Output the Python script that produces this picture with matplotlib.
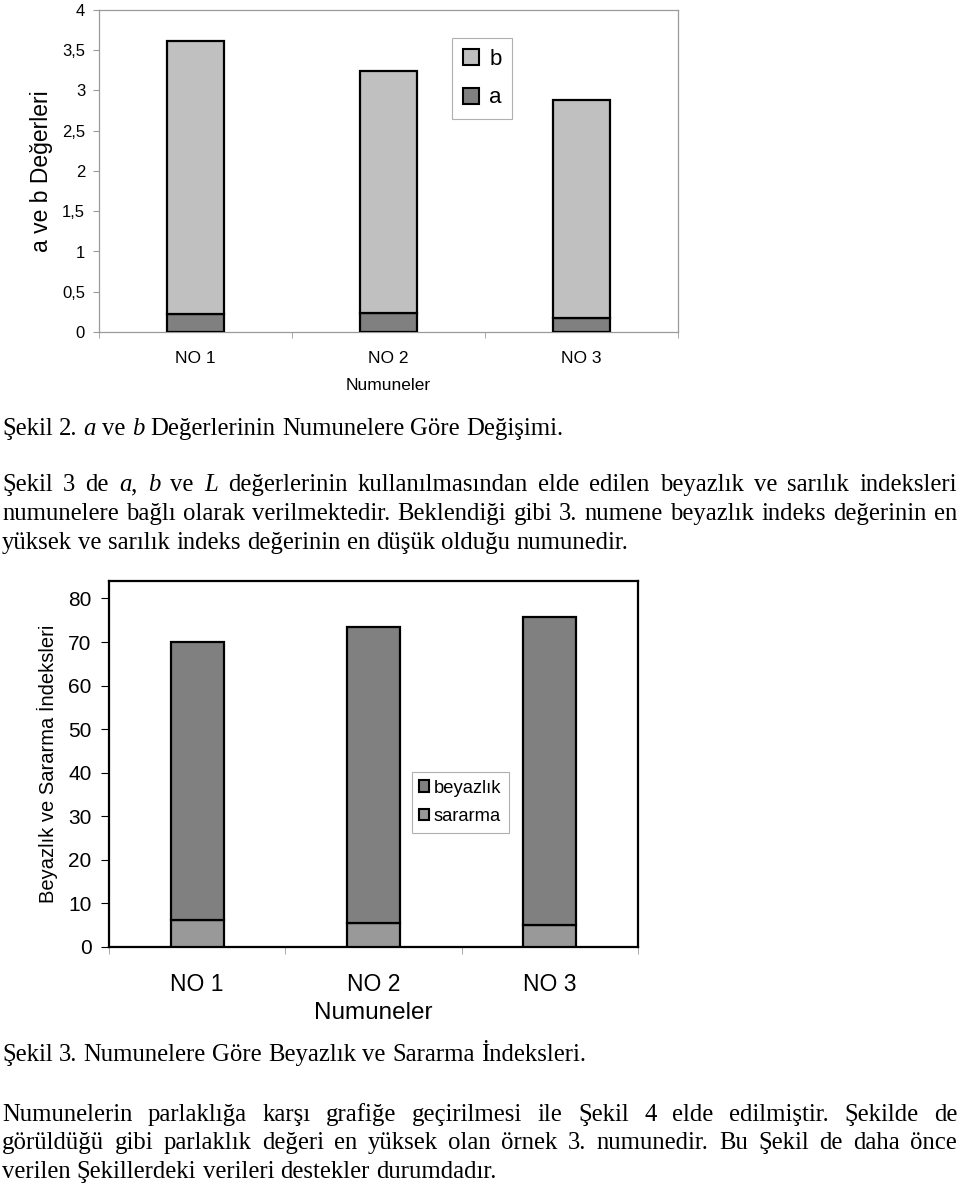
import matplotlib
matplotlib.use('Agg')
import matplotlib.pyplot as plt
from matplotlib.patches import Patch
import numpy as np

# ---------------- data ----------------
samples = ['NO 1', 'NO 2', 'NO 3']

# Chart 1 (Şekil 2): a and b values (stacked)
a_vals = [0.22, 0.24, 0.18]
b_vals = [3.40, 3.00, 2.70]
yticks1 = [0, 0.5, 1, 1.5, 2, 2.5, 3, 3.5, 4]
ytick_labels1 = ['0', '0,5', '1', '1,5', '2', '2,5', '3', '3,5', '4']

# Chart 2 (Şekil 3): sararma and beyazlık indices (stacked)
sararma = [6.3, 5.5, 5.0]
beyazlik = [63.7, 68.0, 70.7]
yticks2 = [0, 10, 20, 30, 40, 50, 60, 70, 80]
ytick_labels2 = ['0', '10', '20', '30', '40', '50', '60', '70', '80']

# Body text lines ('|' toggles italic), with justify flag
caption1 = "Şekil 2. |a| ve |b| Değerlerinin Numunelere Göre Değişimi."
para1 = [
    ("Şekil 3 de |a|, |b| ve |L| değerlerinin kullanılmasından elde edilen beyazlık ve sarılık indeksleri", True),
    ("numunelere bağlı olarak verilmektedir. Beklendiği gibi 3. numene beyazlık indeks değerinin en", True),
    ("yüksek ve sarılık indeks değerinin en düşük olduğu numunedir.", False),
]
caption2 = "Şekil 3. Numunelere Göre Beyazlık ve Sararma İndeksleri."
para2 = [
    ("Numunelerin parlaklığa karşı grafiğe geçirilmesi ile Şekil 4 elde edilmiştir. Şekilde de", True),
    ("görüldüğü gibi parlaklık değeri en yüksek olan örnek 3. numunedir. Bu Şekil de daha önce", True),
    ("verilen Şekillerdeki verileri destekler durumdadır.", False),
]

# ---------------- figure ----------------
W, H = 960, 1185
fig = plt.figure(figsize=(W / 100, H / 100), dpi=100)
fig.patch.set_facecolor('white')
SANS = ['Liberation Sans', 'DejaVu Sans']
SERIF = ['Liberation Serif', 'DejaVu Serif']
plt.rcParams['font.family'] = SANS


def ax_rect(x0, y0, x1, y1):
    return [x0 / W, 1 - y1 / H, (x1 - x0) / W, (y1 - y0) / H]


x = np.arange(len(samples))
BW = 0.30

# ---------------- Chart 1 ----------------
ax1 = fig.add_axes(ax_rect(99, 10, 678, 332))
ax1.bar(x, a_vals, BW, color='#808080', edgecolor='black', linewidth=1.6, zorder=3, label='a')
ax1.bar(x, b_vals, BW, bottom=a_vals, color='#c0c0c0', edgecolor='black', linewidth=1.6,
        zorder=3, label='b')
ax1.set_xlim(-0.5, 2.5)
ax1.set_ylim(0, 4)
for s in ax1.spines.values():
    s.set_color('#9a9a9a')
    s.set_linewidth(0.9)
ax1.set_xticks(x, samples)
ax1.set_xticks([-0.5, 0.5, 1.5, 2.5], minor=True)
ax1.tick_params(axis='x', which='major', length=0, pad=14, labelsize=12.5)
ax1.tick_params(axis='x', which='minor', length=4, color='#9a9a9a', direction='out')
ax1.set_yticks(yticks1, ytick_labels1)
ax1.tick_params(axis='y', length=4, color='#9a9a9a', pad=6, labelsize=12)
ax1.set_xlabel('Numuneler', fontsize=12.5, labelpad=8)
ax1.set_ylabel('a ve b Değerleri', fontsize=16.5)
ax1.yaxis.set_label_coords(-0.080, 0.5)
h1 = [Patch(facecolor='#c0c0c0', edgecolor='black', linewidth=1.5, label='b'),
      Patch(facecolor='#808080', edgecolor='black', linewidth=1.5, label='a')]
leg1 = ax1.legend(handles=h1, loc='upper left', bbox_to_anchor=(452 / W, 1 - 38 / H),
                  bbox_transform=fig.transFigure, borderaxespad=0, fancybox=False,
                  framealpha=1, edgecolor='#b0b0b0', fontsize=16, handlelength=0.75,
                  handleheight=0.75, labelspacing=0.8, handletextpad=0.44, borderpad=0.48)
leg1.get_frame().set_linewidth(0.8)

# ---------------- Chart 2 ----------------
ax2 = fig.add_axes(ax_rect(109, 581, 638, 947))
ax2.bar(x, sararma, BW, color='#999999', edgecolor='black', linewidth=1.6, zorder=3, label='sararma')
ax2.bar(x, beyazlik, BW, bottom=sararma, color='#808080', edgecolor='black', linewidth=1.6,
        zorder=3, label='beyazlık')
ax2.set_xlim(-0.5, 2.5)
ax2.set_ylim(0, 84)
for s in ax2.spines.values():
    s.set_color('black')
    s.set_linewidth(1.6)
ax2.set_xticks(x, samples)
ax2.set_xticks([-0.5, 0.5, 1.5, 2.5], minor=True)
ax2.tick_params(axis='x', which='major', length=0, pad=19, labelsize=16.5)
ax2.tick_params(axis='x', which='minor', length=5, color='#9a9a9a', direction='out')
ax2.set_yticks(yticks2, ytick_labels2)
ax2.tick_params(axis='y', length=5.5, color='black', pad=7, labelsize=15)
ax2.set_xlabel('Numuneler', fontsize=17.5, labelpad=4)
ax2.set_ylabel('Beyazlık ve Sararma İndeksleri', fontsize=14.5)
ax2.yaxis.set_label_coords(-0.097, 0.5)
h2 = [Patch(facecolor='#808080', edgecolor='black', linewidth=1.5, label='beyazlık'),
      Patch(facecolor='#999999', edgecolor='black', linewidth=1.5, label='sararma')]
leg2 = ax2.legend(handles=h2, loc='upper left', bbox_to_anchor=(411.5 / W, 1 - 772 / H),
                  bbox_transform=fig.transFigure, borderaxespad=0, fancybox=False,
                  framealpha=1, edgecolor='#b0b0b0', fontsize=13.2, handlelength=0.55,
                  handleheight=0.6, labelspacing=0.62, handletextpad=0.25, borderpad=0.42)
leg2.get_frame().set_linewidth(0.8)

# ---------------- body text ----------------
FS = 17.8
renderer = fig.canvas.get_renderer()


def parse_words(line):
    words = []
    for w in line.split(' '):
        parts = w.split('|')
        runs = []
        ital = False
        for i, p in enumerate(parts):
            if i > 0:
                ital = not ital
            if p:
                runs.append((p, ital))
        words.append(runs)
    return words


def measure(txt, ital):
    t = fig.text(0, 0, txt, fontsize=FS, family=SERIF, style='italic' if ital else 'normal',
                 transform=None)
    w = t.get_window_extent(renderer).width
    t.remove()
    return w


SPACE = measure('x x', False) - measure('xx', False)


def draw_line(line, y_base, justify, x0=2, x1=957):
    words = parse_words(line)
    ww = [[measure(t, it) for t, it in wd] for wd in words]
    totals = [sum(w) for w in ww]
    if justify and len(words) > 1:
        gap = (x1 - x0 - sum(totals)) / (len(words) - 1)
    else:
        gap = SPACE
    xp = x0
    yp = H - y_base
    for wd, wl in zip(words, ww):
        xx = xp
        for (t, it), w in zip(wd, wl):
            fig.text(xx, yp, t, fontsize=FS, family=SERIF, style='italic' if it else 'normal',
                     transform=None, va='baseline', ha='left')
            xx += w
        xp = xx + gap


draw_line(caption1, 435, False)
for (ln, j), yb in zip(para1, [491, 520, 549]):
    draw_line(ln, yb, j)
draw_line(caption2, 1061, False)
for (ln, j), yb in zip(para2, [1121, 1149, 1178]):
    draw_line(ln, yb, j)

fig.savefig('out.png', dpi=100, facecolor='white')
